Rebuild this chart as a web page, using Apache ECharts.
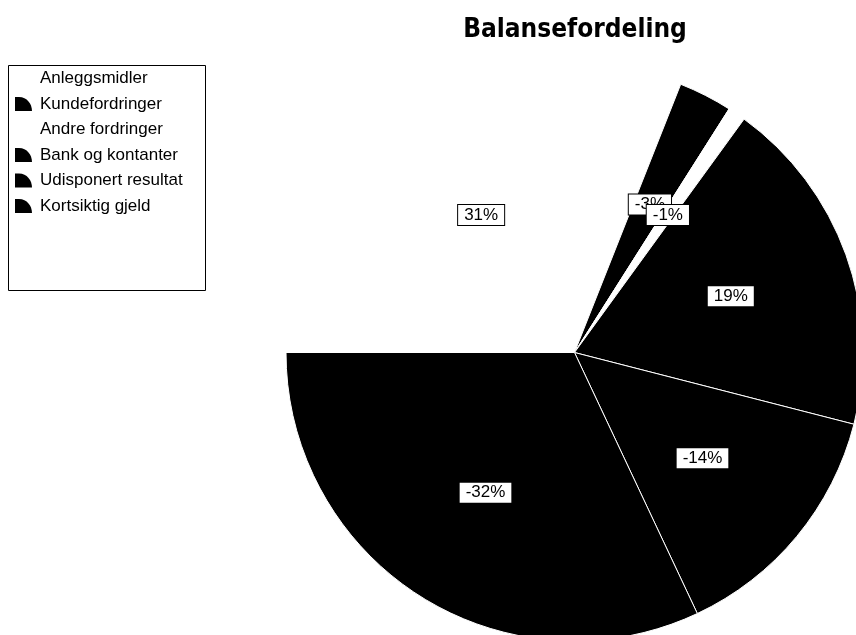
<!DOCTYPE html>
<html>
<head>
<meta charset="utf-8">
<script src="https://cdn.jsdelivr.net/npm/echarts@6/dist/echarts.min.js"></script>
<style>
  html, body { margin: 0; padding: 0; background: #fff; }
  #chart { width: 856px; height: 635px; }
</style>
</head>
<body>
<div id="chart"></div>
<script>
// ---- data ----
const categories = ['Anleggsmidler', 'Kundefordringer', 'Andre fordringer', 'Bank og kontanter', 'Udisponert resultat', 'Kortsiktig gjeld'];
const percentValues = [31, -3, -1, 19, -14, -32];
const sliceColors = ['#ffffff', '#000000', '#ffffff', '#000000', '#000000', '#000000'];
const chartTitle = 'Balansefordeling';

// ---- layout ----
const CX = 574.5, CY = 352.5, R = 288.5;
const LABEL_RADIUS_FACTOR = 1.128; // labels sit at ~0.565 R instead of 0.5 R

const chart = echarts.init(document.getElementById('chart'), null, { renderer: 'canvas' });

const pieData = categories.map((name, i) => ({
  name: name,
  value: Math.abs(percentValues[i]),
  itemStyle: { color: sliceColors[i] }
}));

const wedgeIcon = 'path://M0,0 L4,0 C12,0 17,7 17,14 L0,14 Z';

chart.setOption({
  animation: false,
  backgroundColor: '#ffffff',
  title: {
    text: chartTitle,
    left: 570,
    top: 12,
    textAlign: 'center',
    textStyle: { fontFamily: "'DejaVu Sans Condensed', 'DejaVu Sans'", fontWeight: 'bold', fontSize: 26, color: '#000' }
  },
  graphic: [{
    type: 'rect',
    z: 0,
    shape: { x: 8.5, y: 65.5, width: 197, height: 225 },
    style: { fill: '#ffffff', stroke: '#000000', lineWidth: 1 }
  }],
  legend: {
    orient: 'vertical',
    left: 15,
    top: 70,
    padding: 0,
    itemWidth: 17,
    itemHeight: 14,
    itemGap: 8.5,
    icon: wedgeIcon,
    itemStyle: { borderWidth: 0 },
    data: categories,
    textStyle: { fontFamily: 'Liberation Sans', fontSize: 17, color: '#000', lineHeight: 16, padding: [0, 0, 0, 3] }
  },
  series: [{
    type: 'pie',
    center: [CX, CY],
    radius: R,
    startAngle: 180,
    clockwise: true,
    avoidLabelOverlap: false,
    silent: true,
    data: pieData,
    itemStyle: { borderColor: '#ffffff', borderWidth: 1 },
    label: {
      show: true,
      position: 'inside',
      formatter: p => percentValues[p.dataIndex] + '%',
      fontFamily: 'Liberation Sans',
      fontSize: 17,
      lineHeight: 18,
      color: '#000',
      backgroundColor: '#ffffff',
      borderColor: '#000000',
      borderWidth: 1,
      padding: [1, 6, 1, 6]
    },
    labelLine: { show: false },
    labelLayout: function (params) {
      const r = params.labelRect;
      const lx = r.x + r.width / 2, ly = r.y + r.height / 2;
      return {
        dx: (lx - CX) * (LABEL_RADIUS_FACTOR - 1),
        dy: (ly - CY) * (LABEL_RADIUS_FACTOR - 1)
      };
    }
  }]
});
</script>
</body>
</html>
